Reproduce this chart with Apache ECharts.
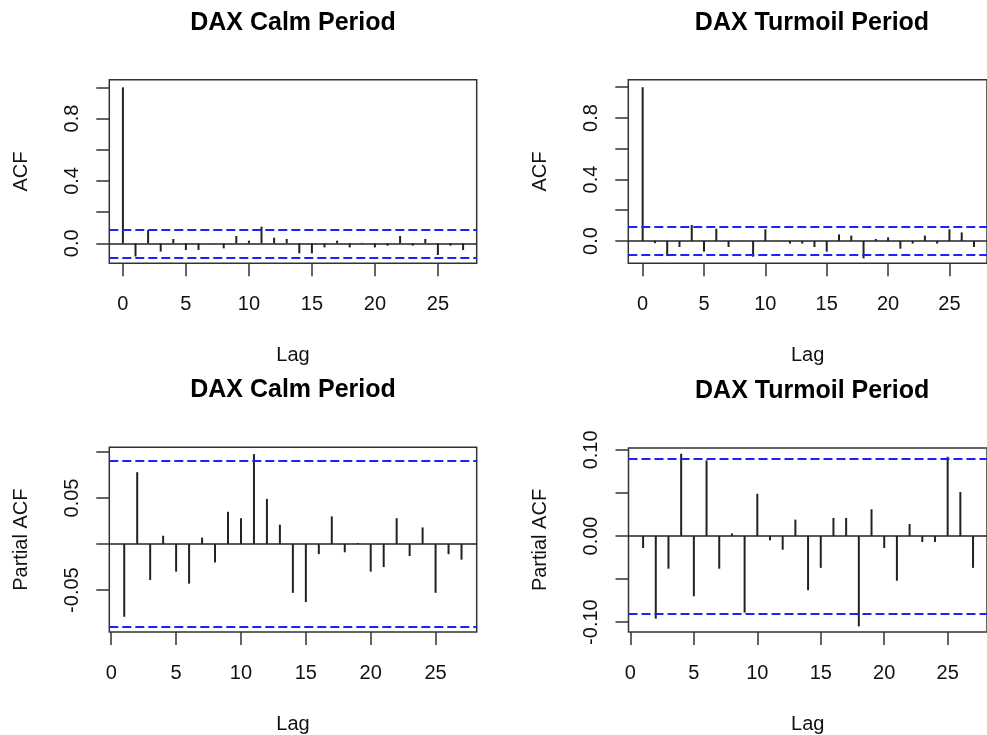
<!DOCTYPE html>
<html>
<head>
<meta charset="utf-8">
<script src="https://cdn.jsdelivr.net/npm/echarts@6/dist/echarts.min.js"></script>
<style>html,body{margin:0;padding:0;background:#fff;}#chart{width:987px;height:735px;}</style>
</head>
<body>
<div id="chart"></div>
<script>
// ---- data ----
const titles = ['DAX Calm Period', 'DAX Turmoil Period', 'DAX Calm Period', 'DAX Turmoil Period'];
const acfLags = [0,1,2,3,4,5,6,7,8,9,10,11,12,13,14,15,16,17,18,19,20,21,22,23,24,25,26,27];
const pacfLags = [1,2,3,4,5,6,7,8,9,10,11,12,13,14,15,16,17,18,19,20,21,22,23,24,25,26,27];
const acfCalm = [1.0,-0.084,0.085,-0.053,0.028,-0.043,-0.043,0.002,-0.032,0.047,0.017,0.107,0.036,0.028,-0.064,-0.064,-0.026,0.017,-0.026,0.003,-0.026,-0.015,0.047,-0.015,0.028,-0.075,-0.015,-0.043];
const acfTurmoil = [1.0,-0.014,-0.098,-0.039,0.104,-0.069,0.080,-0.039,0.001,-0.102,0.076,0.001,-0.017,-0.017,-0.039,-0.069,0.043,0.035,-0.113,0.013,0.024,-0.050,-0.017,0.035,-0.017,0.076,0.056,-0.039];
const pacfCalm = [-0.079,0.078,-0.039,0.009,-0.030,-0.043,0.007,-0.020,0.035,0.028,0.0976,0.049,0.021,-0.053,-0.063,-0.011,0.030,-0.009,0.001,-0.030,-0.025,0.028,-0.013,0.018,-0.053,-0.011,-0.017];
const pacfTurmoil = [-0.014,-0.096,-0.038,0.0955,-0.070,0.0878,-0.038,0.003,-0.089,0.049,-0.005,-0.016,0.019,-0.063,-0.037,0.021,0.021,-0.105,0.031,-0.014,-0.052,0.014,-0.007,-0.007,0.092,0.051,-0.037];
const confBound = 0.0877; // 1.96/sqrt(500)
const xTicks = [0,5,10,15,20,25];
const acfYTicks = [0,0.2,0.4,0.6,0.8,1.0];
const acfYLabels = [0,0.4,0.8];
const pacfCalmYTicks = [-0.05,0,0.05,0.10];
const pacfCalmYLabels = [-0.05,0.05];
const pacfTurmYTicks = [-0.10,-0.05,0,0.05,0.10];
const pacfTurmYLabels = [-0.10,0,0.10];

// ---- layout ----
const FONT = 'Liberation Sans, Arial, sans-serif';
const panels = [
  {grid:{left:109.3, top:79.7, width:367.4, height:183.6}, x:[-1.08,28.08], y:[-0.128,1.049], yTicks:acfYTicks, yLabels:acfYLabels, yName:'ACF', lags:acfLags, vals:acfCalm, fmt:v=>v.toFixed(1)},
  {grid:{left:628.3, top:79.7, width:367.4, height:183.6}, x:[-1.17,28.06], y:[-0.145,1.049], yTicks:acfYTicks, yLabels:acfYLabels, yName:'ACF', lags:acfLags, vals:acfTurmoil, fmt:v=>v.toFixed(1)},
  {grid:{left:109.3, top:447.3, width:367.4, height:185}, x:[-0.15,28.17], y:[-0.0955,0.1050], yTicks:pacfCalmYTicks, yLabels:pacfCalmYLabels, yName:'Partial ACF', lags:pacfLags, vals:pacfCalm, fmt:v=>v.toFixed(2)},
  {grid:{left:628.5, top:448, width:367.4, height:184}, x:[-0.15,28.1], y:[-0.1115,0.1022], yTicks:pacfTurmYTicks, yLabels:pacfTurmYLabels, yName:'Partial ACF', lags:pacfLags, vals:pacfTurmoil, fmt:v=>v.toFixed(2)}
];

const grids = [], xAxes = [], yAxes = [], series = [], titleArr = [];
panels.forEach((p, i) => {
  grids.push(Object.assign({show:true, borderColor:'#333', borderWidth:1.5, backgroundColor:'transparent'}, p.grid));
  titleArr.push({
    text: titles[i], left: p.grid.left + p.grid.width/2, top: p.grid.top - 69.5, textAlign:'center', padding:0,
    textStyle:{fontFamily:FONT, fontSize:25, fontWeight:'bold', color:'#000'}
  });
  xAxes.push({
    gridIndex:i, type:'value', min:p.x[0], max:p.x[1],
    axisLine:{show:false, onZero:false},
    axisTick:{show:true, length:13, customValues:xTicks, lineStyle:{color:'#333', width:1.5}},
    axisLabel:{customValues:xTicks, margin:31, fontSize:20, fontFamily:FONT, color:'#111'},
    splitLine:{show:false},
    name:'Lag', nameLocation:'middle', nameGap:82,
    nameTextStyle:{fontSize:20, fontFamily:FONT, color:'#111'}
  });
  yAxes.push({
    gridIndex:i, type:'value', min:p.y[0], max:p.y[1],
    axisLine:{show:false, onZero:false},
    axisTick:{show:true, length:13, customValues:p.yTicks, lineStyle:{color:'#333', width:1.5}},
    axisLabel:{customValues:p.yLabels, rotate:90, margin:27, fontSize:20, fontFamily:FONT, color:'#111', formatter:p.fmt},
    splitLine:{show:false},
    name:p.yName, nameLocation:'middle', nameGap:78,
    nameTextStyle:{fontSize:20, fontFamily:FONT, color:'#111'}
  });
  series.push({
    type:'bar', xAxisIndex:i, yAxisIndex:i, barWidth:2,
    data: p.lags.map((l, k) => [l, p.vals[k]]),
    itemStyle:{color:'#222'},
    silent:true,
    markLine:{
      silent:true, symbol:'none', label:{show:false}, animation:false,
      data:[
        {yAxis:0, lineStyle:{color:'#222', width:1.5, type:'solid'}},
        {yAxis:confBound, lineStyle:{color:'#2020ff', width:2, type:[9,4]}},
        {yAxis:-confBound, lineStyle:{color:'#2020ff', width:2, type:[9,4]}}
      ]
    }
  });
});

const chart = echarts.init(document.getElementById('chart'), null, {renderer:'canvas'});
chart.setOption({
  animation:false,
  backgroundColor:'#fff',
  title:titleArr,
  grid:grids,
  xAxis:xAxes,
  yAxis:yAxes,
  series:series
});
</script>
</body>
</html>
